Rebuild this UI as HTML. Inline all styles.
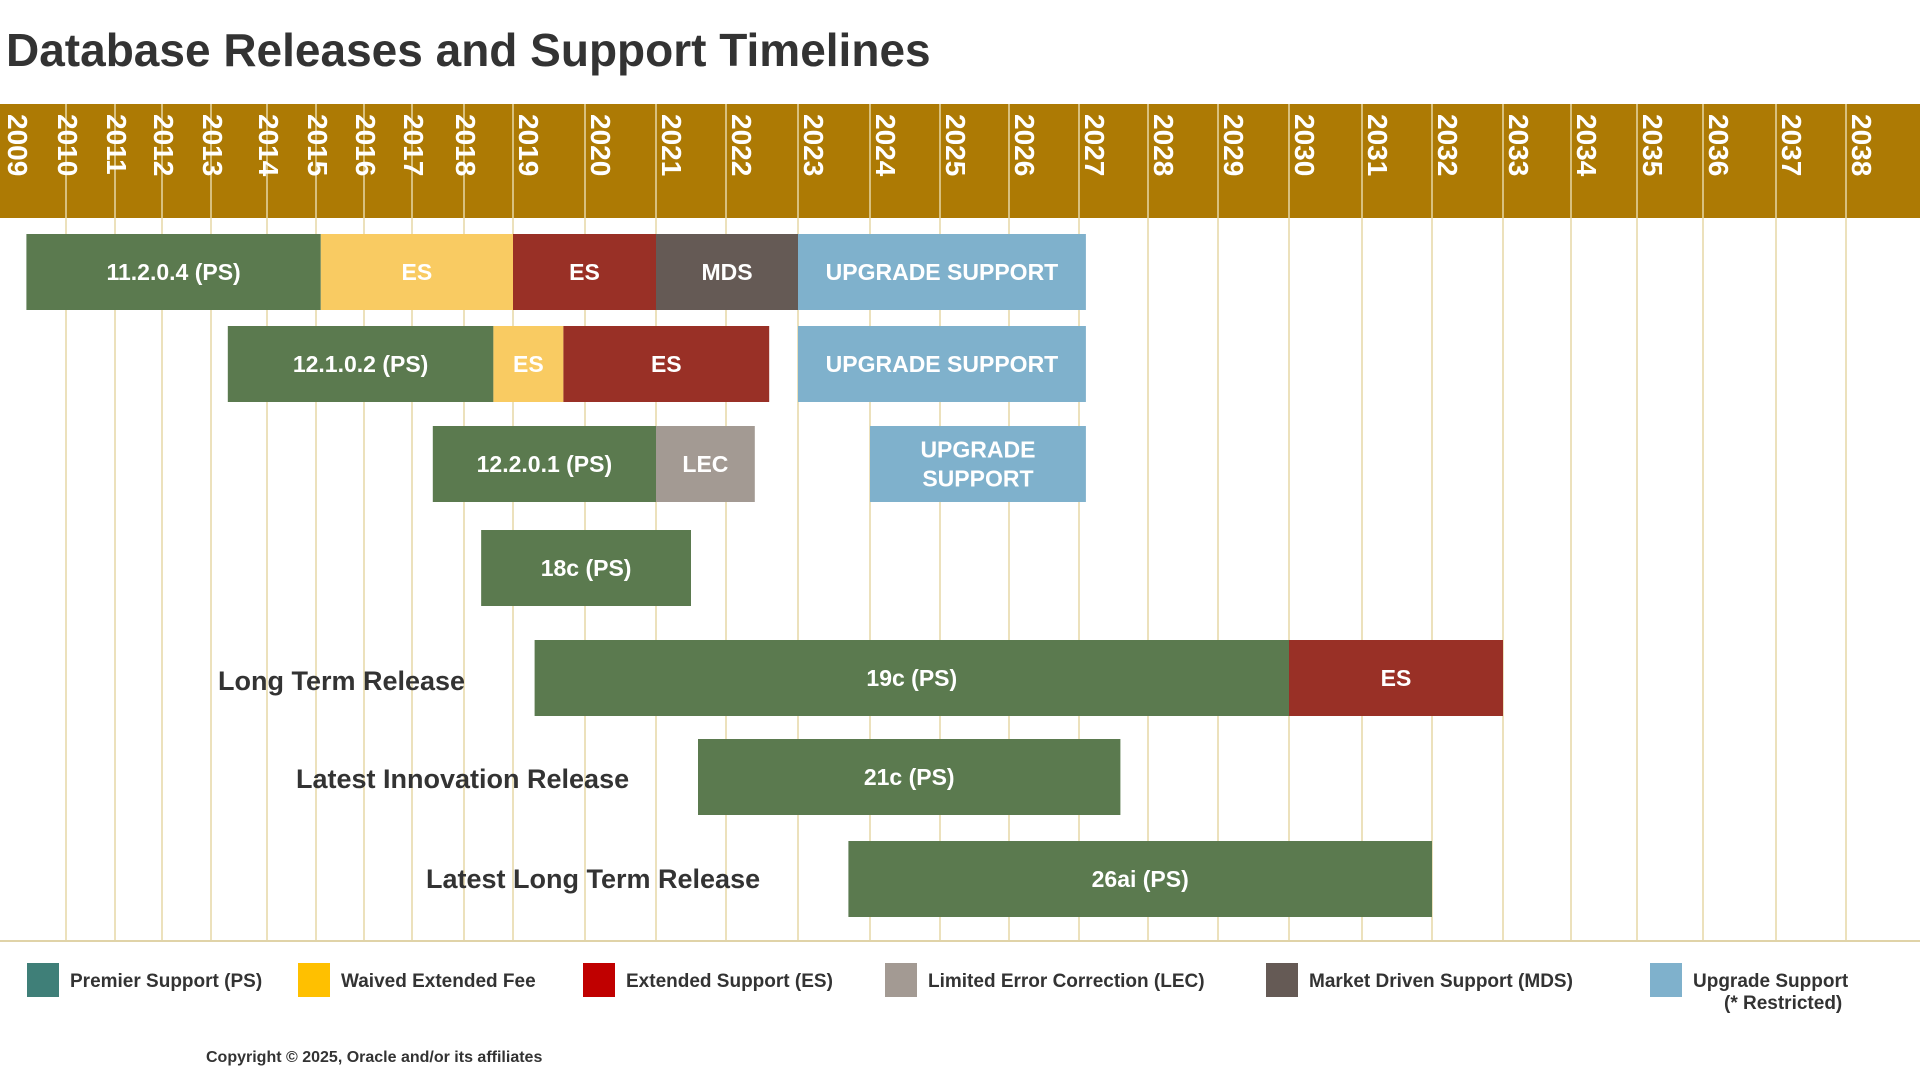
<!DOCTYPE html>
<html><head><meta charset="utf-8">
<style>
html,body{margin:0;padding:0;background:#fff;width:1920px;height:1080px;overflow:hidden}
svg{display:block}
text{font-family:"Liberation Sans Narrow","Liberation Sans",sans-serif;font-weight:bold}
</style></head>
<body>
<svg id="chart" width="1920" height="1080" viewBox="0 0 1920 1080" xmlns="http://www.w3.org/2000/svg">
<text x="6" y="66" font-size="46" fill="#333" style="font-family:'Liberation Sans',sans-serif">Database Releases and Support Timelines</text>
<rect x="0" y="104" width="1920" height="114" fill="#ad7a04"/>
<g id="grid"></g>
<g id="years"></g>
<g id="bars"></g>
<text x="218" y="690" font-size="27" fill="#333">Long Term Release</text>
<text x="296" y="788" font-size="27" fill="#333">Latest Innovation Release</text>
<text x="426" y="888" font-size="27" fill="#333">Latest Long Term Release</text>
<line x1="0" y1="941" x2="1920" y2="941" stroke="#e0d3a8" stroke-width="2"/>
<g id="legend"></g>
<text x="206" y="1062" font-size="16" fill="#333">Copyright © 2025, Oracle and/or its affiliates</text>
</svg>
<script>
const years = [2009,2010,2011,2012,2013,2014,2015,2016,2017,2018,2019,2020,2021,2022,2023,2024,2025,2026,2027,2028,2029,2030,2031,2032,2033,2034,2035,2036,2037,2038,2039];
const yearLinePx = [0,66,115,162,211,267,316,364,412,464,513,585,656,726,798,870,940,1009,1079,1148,1218,1289,1362,1432,1503,1571,1637,1703,1776,1846,1918];
const rowNames = ["11.2.0.4","12.1.0.2","12.2.0.1","18c","19c","21c","26ai"];
const rowTop = [234,326,426,530,640,739,841];
const rowH = 76;
const segRow   = [0,0,0,0,0, 1,1,1,1, 2,2,2, 3, 4,4, 5, 6];
const segStart = [2009.4,2015.1,2019,2021,2023, 2013.3,2018.6,2019.7,2023.0, 2017.4,2021,2024, 2018.35, 2019.3,2030, 2021.6, 2023.7];
const segEnd   = [2015.1,2019,2021,2023,2027.1, 2018.6,2019.7,2022.6,2027.1, 2021,2022.4,2027.1, 2021.5, 2030,2033, 2027.6, 2032];
const segType  = ["PS","WF","ES","MDS","US", "PS","WF","ES","US", "PS","LEC","US2", "PS", "PS","ES", "PS", "PS"];
const segLabel = ["11.2.0.4 (PS)","ES","ES","MDS","UPGRADE SUPPORT", "12.1.0.2 (PS)","ES","ES","UPGRADE SUPPORT", "12.2.0.1 (PS)","LEC","UPGRADE|SUPPORT", "18c (PS)", "19c (PS)","ES", "21c (PS)", "26ai (PS)"];
const legendLabels = ["Premier Support (PS)","Waived Extended Fee","Extended Support (ES)","Limited Error Correction (LEC)","Market Driven Support (MDS)","Upgrade Support|(* Restricted)"];
const legendColors = ["#3f7f78","#ffc000","#c00000","#a39a93","#655a55","#7fb1cc"];
const legendX = [27,298,583,885,1266,1650];
const fill = {PS:"#5b7a4f",WF:"#f9cb62",ES:"#993026",MDS:"#655a55",LEC:"#a39a93",US:"#7fb1cc",US2:"#7fb1cc"};
const NS="http://www.w3.org/2000/svg";
function xScale(v){
  if(v<=years[0]) return yearLinePx[0];
  for(let i=0;i<years.length-1;i++){
    if(v<=years[i+1]) return yearLinePx[i]+(v-years[i])/(years[i+1]-years[i])*(yearLinePx[i+1]-yearLinePx[i]);
  }
  return yearLinePx[yearLinePx.length-1];
}
function mk(tag,attrs,parent){const e=document.createElementNS(NS,tag);for(const k in attrs)e.setAttribute(k,attrs[k]);parent.appendChild(e);return e;}
const grid=document.getElementById('grid'), yg=document.getElementById('years'), bars=document.getElementById('bars'), lg=document.getElementById('legend');
for(let i=1;i<years.length-1;i++){
  const x=xScale(years[i]);
  const l=mk('line',{x1:x,y1:104,x2:x,y2:940,stroke:'#e6d7a6','stroke-width':1.5},grid);
  
  
}
for(let i=0;i<years.length-1;i++){
  const x=(i===0?8:xScale(years[i])-8)+ (years[i]>=2019?14:0);
  const t=mk('text',{x:0,y:0,'font-size':28,fill:'#fff',transform:`translate(${x},114) rotate(90)`,style:"font-family:'Liberation Sans',sans-serif"},yg);
  t.textContent=years[i];
  
  
}
for(let i=0;i<segRow.length;i++){
  const x0=xScale(segStart[i]), x1=xScale(segEnd[i]), y=rowTop[segRow[i]];
  const g=mk('g',{},bars);
  
  
  mk('rect',{x:x0,y:y,width:x1-x0,height:rowH,fill:fill[segType[i]]},g);
  const parts=segLabel[i].split('|');
  parts.forEach((p,j)=>{
    const ty=y+rowH/2+8+(j-(parts.length-1)/2)*29;
    const t=mk('text',{x:(x0+x1)/2,y:ty,'font-size':23,fill:'#fff','text-anchor':'middle'},g);
    t.textContent=p;
  });
}
for(let i=0;i<legendLabels.length;i++){
  const g=mk('g',{},lg);
  
  
  mk('rect',{x:legendX[i],y:963,width:32,height:34,fill:legendColors[i]},g);
  const parts=legendLabels[i].split('|');
  parts.forEach((p,j)=>{
    const t=mk('text',{x:legendX[i]+(j?74:43),y:987+j*22,'font-size':19,fill:'#333'},g);
    t.textContent=p;
  });
}
</script>
</body></html>
